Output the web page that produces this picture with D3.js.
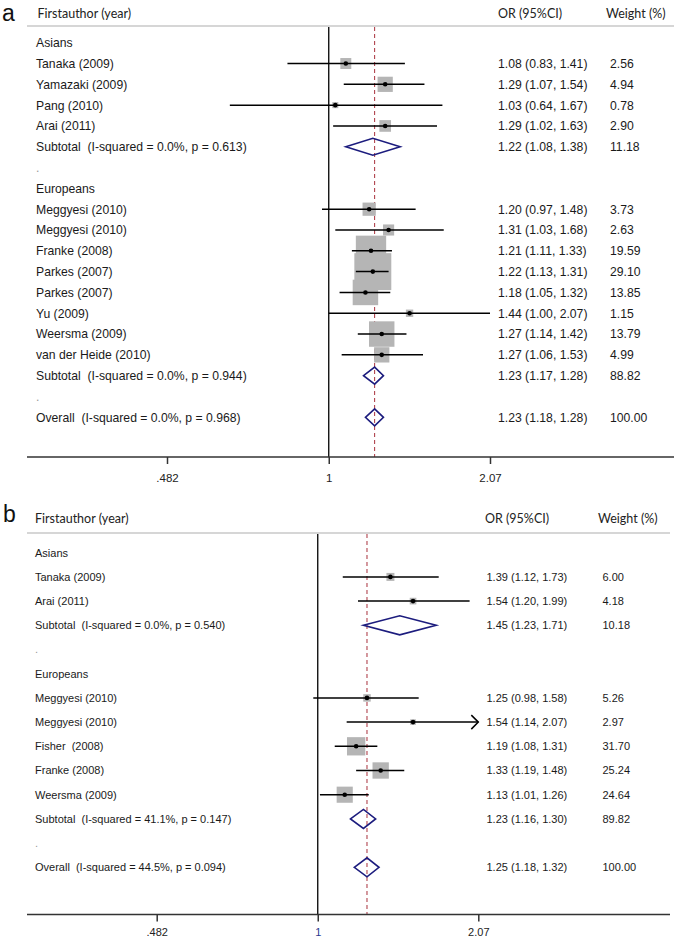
<!DOCTYPE html>
<html>
<head>
<meta charset="utf-8">
<script src="https://cdn.jsdelivr.net/npm/d3@7"></script>
<style>
  html, body { margin: 0; padding: 0; background: #fff; }
  svg { display: block; }
  svg text { white-space: pre; }
</style>
</head>
<body>
<svg id="chart" width="678" height="940"></svg>
<script>
// ---------------- DATA ----------------
// Panel a
const aLabels = ["Asians", "Tanaka (2009)", "Yamazaki (2009)", "Pang (2010)", "Arai (2011)",
  "Subtotal  (I-squared = 0.0%, p = 0.613)", ".", "Europeans", "Meggyesi (2010)", "Meggyesi (2010)",
  "Franke (2008)", "Parkes (2007)", "Parkes (2007)", "Yu (2009)", "Weersma (2009)",
  "van der Heide (2010)", "Subtotal  (I-squared = 0.0%, p = 0.944)", ".", "Overall  (I-squared = 0.0%, p = 0.968)"];
const aOR = [null, 1.08, 1.29, 1.03, 1.29, 1.22, null, null, 1.20, 1.31, 1.21, 1.22, 1.18, 1.44, 1.27, 1.27, 1.23, null, 1.23];
const aLo = [null, 0.83, 1.07, 0.64, 1.02, 1.08, null, null, 0.97, 1.03, 1.11, 1.13, 1.05, 1.00, 1.14, 1.06, 1.17, null, 1.18];
const aHi = [null, 1.41, 1.54, 1.67, 1.63, 1.38, null, null, 1.48, 1.68, 1.33, 1.31, 1.32, 2.07, 1.42, 1.53, 1.28, null, 1.28];
const aWeight = [null, 2.56, 4.94, 0.78, 2.90, 11.18, null, null, 3.73, 2.63, 19.59, 29.10, 13.85, 1.15, 13.79, 4.99, 88.82, null, 100.00];
const aArrow = [];

// Panel b
const bLabels = ["Asians", "Tanaka (2009)", "Arai (2011)", "Subtotal  (I-squared = 0.0%, p = 0.540)", ".",
  "Europeans", "Meggyesi (2010)", "Meggyesi (2010)", "Fisher  (2008)", "Franke (2008)", "Weersma (2009)",
  "Subtotal  (I-squared = 41.1%, p = 0.147)", ".", "Overall  (I-squared = 44.5%, p = 0.094)"];
const bOR = [null, 1.39, 1.54, 1.45, null, null, 1.25, 1.54, 1.19, 1.33, 1.13, 1.23, null, 1.25];
const bLo = [null, 1.12, 1.20, 1.23, null, null, 0.98, 1.14, 1.08, 1.19, 1.01, 1.16, null, 1.18];
const bHi = [null, 1.73, 1.99, 1.71, null, null, 1.58, 2.07, 1.31, 1.48, 1.26, 1.30, null, 1.32];
const bWeight = [null, 6.00, 4.18, 10.18, null, null, 5.26, 2.97, 31.70, 25.24, 24.64, 89.82, null, 100.00];
const bArrow = [7];

// Axis ticks
const tickValues = [0.482, 1, 2.07];
const tickLabels = [".482", "1", "2.07"];

// Column headers
const headers = ["Firstauthor (year)", "OR (95%CI)", "Weight (%)"];
const panelLetters = ["a", "b"];

// ---------------- DRAW ----------------
const svg = d3.select("#chart");
svg.append("rect").attr("width", 678).attr("height", 940).attr("fill", "#fff");

const fmt = d3.format(".2f");
const leftFont = "'Liberation Sans', Arial, sans-serif";
const headFont = "Lato, 'Open Sans', sans-serif";

function drawPanel(cfg) {
  const g = svg.append("g");
  const n = cfg.labels.length;
  const x = d3.scaleLog().domain([tickValues[0], tickValues[2]]).range(cfg.xRange);
  const y = d3.scaleLinear().domain([0, n - 1]).range([cfg.y0, cfg.y1]);
  const side = d3.scaleSqrt().domain([0, 100]).range([0, cfg.sqMax]);

  const rows = cfg.labels.map((l, i) => ({
    i, label: l, or: cfg.or[i], lo: cfg.lo[i], hi: cfg.hi[i], w: cfg.weight[i],
    pooled: /^(Subtotal|Overall)/.test(l), arrow: cfg.arrow.includes(i)
  }));
  const studies = rows.filter(r => r.or != null && !r.pooled);
  const pooled = rows.filter(r => r.or != null && r.pooled);
  const overall = rows[n - 1];

  // panel letter
  g.append("text").attr("x", cfg.letterX).attr("y", cfg.letterY)
    .attr("font-family", "'Liberation Sans', Arial, sans-serif").attr("font-size", 23)
    .attr("fill", "#111").text(cfg.letter);

  // headers
  headers.forEach((h, k) => {
    g.append("text").attr("x", cfg.headX[k]).attr("y", cfg.headY).attr("font-family", headFont)
      .attr("font-size", cfg.headSize).attr("fill", "#222").text(h);
  });

  // header rule
  g.append("line").attr("x1", cfg.ruleX[0]).attr("x2", cfg.ruleX[1])
    .attr("y1", cfg.ruleY).attr("y2", cfg.ruleY)
    .attr("stroke", "#c9c9c9").attr("stroke-width", 1.6);

  // null line
  g.append("line").attr("x1", x(1)).attr("x2", x(1)).attr("y1", cfg.ruleY + 1).attr("y2", cfg.axisY)
    .attr("stroke", "#000").attr("stroke-width", 1.3);

  // overall dashed line
  g.append("line").attr("x1", x(overall.or)).attr("x2", x(overall.or))
    .attr("y1", cfg.ruleY + 1).attr("y2", cfg.axisY)
    .attr("stroke", "#a8303c").attr("stroke-width", 1).attr("stroke-dasharray", "4,3");

  // squares
  g.selectAll("rect.sq").data(studies).join("rect").attr("class", "sq")
    .attr("x", d => x(d.or) - side(d.w) / 2)
    .attr("y", d => y(d.i) - side(d.w) / 2)
    .attr("width", d => side(d.w)).attr("height", d => side(d.w))
    .attr("fill", "#b5b5b5");

  // CI lines
  g.selectAll("line.ci").data(studies).join("line").attr("class", "ci")
    .attr("x1", d => x(d.lo)).attr("x2", d => x(d.hi))
    .attr("y1", d => y(d.i)).attr("y2", d => y(d.i))
    .attr("stroke", "#000").attr("stroke-width", 1.5);

  // arrows
  g.selectAll("path.arrow").data(studies.filter(d => d.arrow)).join("path").attr("class", "arrow")
    .attr("d", d => `M${x(d.hi) - 7},${y(d.i) - 7} L${x(d.hi)},${y(d.i)} L${x(d.hi) - 7},${y(d.i) + 7}`)
    .attr("fill", "none").attr("stroke", "#000").attr("stroke-width", 1.5);

  // dots
  g.selectAll("circle.pt").data(studies).join("circle").attr("class", "pt")
    .attr("cx", d => x(d.or)).attr("cy", d => y(d.i)).attr("r", 2.3).attr("fill", "#000");

  // diamonds
  g.selectAll("path.dia").data(pooled).join("path").attr("class", "dia")
    .attr("d", d => `M${x(d.lo)},${y(d.i)} L${x(d.or)},${y(d.i) - cfg.diaH} L${x(d.hi)},${y(d.i)} L${x(d.or)},${y(d.i) + cfg.diaH} Z`)
    .attr("fill", "none").attr("stroke", "#1c1c7e").attr("stroke-width", 1.6);

  // left labels
  g.selectAll("text.lab").data(rows).join("text").attr("class", "lab")
    .attr("x", cfg.labX).attr("y", d => y(d.i)).attr("dy", "0.36em")
    .attr("font-family", leftFont).attr("font-size", cfg.fontSize)
    .attr("fill", d => d.label === "." ? "#999" : "#1a1a1a").text(d => d.label);

  // OR column
  const valRows = rows.filter(r => r.or != null);
  g.selectAll("text.orc").data(valRows).join("text").attr("class", "orc")
    .attr("x", cfg.orX).attr("y", d => y(d.i)).attr("dy", "0.36em")
    .attr("font-family", leftFont).attr("font-size", cfg.fontSize).attr("fill", "#1a1a1a")
    .text(d => `${fmt(d.or)} (${fmt(d.lo)}, ${fmt(d.hi)})`);

  // Weight column
  g.selectAll("text.wc").data(valRows).join("text").attr("class", "wc")
    .attr("x", cfg.wX).attr("y", d => y(d.i)).attr("dy", "0.36em")
    .attr("font-family", leftFont).attr("font-size", cfg.fontSize).attr("fill", "#1a1a1a")
    .text(d => fmt(d.w));

  // axis baseline
  g.append("line").attr("x1", cfg.ruleX[0]).attr("x2", cfg.ruleX[1])
    .attr("y1", cfg.axisY).attr("y2", cfg.axisY).attr("stroke", "#333").attr("stroke-width", 1.5);

  // axis ticks
  const axis = d3.axisBottom(x).tickValues(tickValues)
    .tickFormat((d, i) => tickLabels[i]).tickSize(7).tickPadding(cfg.tickPad);
  const ag = g.append("g").attr("transform", `translate(0,${cfg.axisY})`).call(axis);
  ag.select(".domain").remove();
  ag.selectAll(".tick line").attr("stroke", "#333").attr("stroke-width", 1.5);
  ag.selectAll(".tick text").attr("font-family", leftFont).attr("font-size", cfg.tickSize)
    .attr("fill", (d) => (cfg.blueOne && d === 1) ? "#2b3990" : "#222");
}

drawPanel({
  letter: panelLetters[0], letterX: 2, letterY: 21,
  labels: aLabels, or: aOR, lo: aLo, hi: aHi, weight: aWeight, arrow: aArrow,
  xRange: [167, 490], y0: 42.7, y1: 417.3, sqMax: 68.5, diaH: 8.5,
  headX: [37.5, 498, 606], headY: 18, headSize: 12.5,
  ruleX: [27, 674], ruleY: 26, axisY: 457,
  labX: 36, orX: 498, wX: 610, fontSize: 12.2, tickSize: 11.5, tickPad: 10, blueOne: false
});

drawPanel({
  letter: panelLetters[1], letterX: 3, letterY: 522,
  labels: bLabels, or: bOR, lo: bLo, hi: bHi, weight: bWeight, arrow: bArrow,
  xRange: [156.7, 478.3], y0: 552.7, y1: 867.3, sqMax: 32.5, diaH: 9.5,
  headX: [35, 485, 598], headY: 523, headSize: 12.5,
  ruleX: [27, 670], ruleY: 533, axisY: 914.5,
  labX: 35, orX: 486.5, wX: 602.5, fontSize: 11, tickSize: 11, tickPad: 7, blueOne: true
});
</script>
</body>
</html>
